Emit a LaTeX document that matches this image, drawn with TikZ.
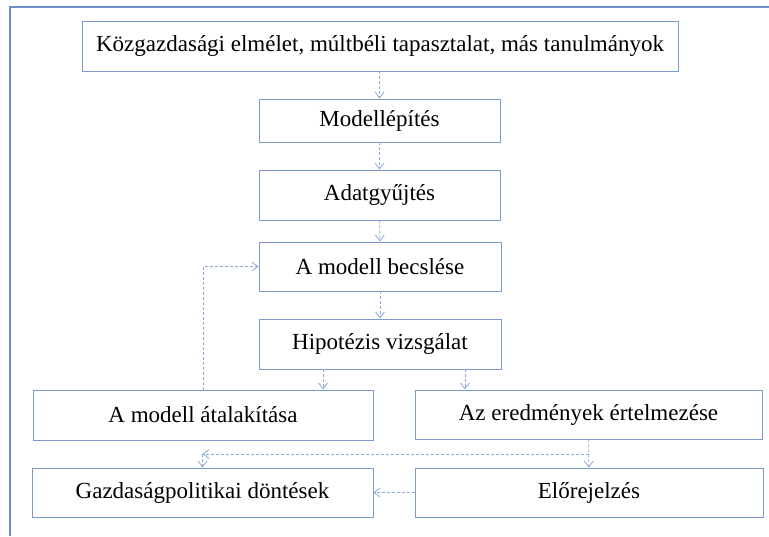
\documentclass[tikz,border=0pt]{standalone}
\usepackage{fontspec}
\setmainfont{Liberation Serif}
\usetikzlibrary{positioning,arrows.meta}
\definecolor{boxline}{HTML}{7B9BD0}
\definecolor{frameline}{HTML}{6F8FC8}
\definecolor{arrowline}{HTML}{8EA9DB}
\tikzset{
  box/.style={draw=boxline, line width=0.9pt, fill=white, inner sep=0pt,
    font=\fontsize{23}{27}\selectfont},
  flow/.style={draw=arrowline, line width=0.8pt, dash pattern=on 3pt off 2pt,
    -{Straight Barb[length=6pt,width=9pt]}}
}

\begin{document}
\begin{tikzpicture}[x=1pt,y=-1pt]
\useasboundingbox (0,0) rectangle (769,536);
% outer frame
\draw[frameline, line width=1.6pt] (10,536) -- (10,7) -- (769,7);
% boxes
\node[box, minimum width=596pt, minimum height=50pt] (theory) at (380,46)
  {Közgazdasági elmélet, múltbéli tapasztalat, más tanulmányok};
\node[box, minimum width=241pt, minimum height=43pt] (build) at (379.5,120.5) {Modellépítés};
\node[box, minimum width=241pt, minimum height=50pt] (data) at (379.5,195) {Adatgyűjtés};
\node[box, minimum width=242pt, minimum height=49pt] (estim) at (380,266.5) {A modell becslése};
\node[box, minimum width=242pt, minimum height=50pt] (hypo) at (380,344) {Hipotézis vizsgálat};
\node[box, minimum width=340pt, minimum height=50pt] (redo) at (203,415) {A modell átalakítása};
\node[box, minimum width=347pt, minimum height=49pt] (interp) at (588.5,414.5) {Az eredmények értelmezése};
\node[box, minimum width=341pt, minimum height=49pt] (policy) at (202.5,492.5) {Gazdaságpolitikai döntések};
\node[box, minimum width=348pt, minimum height=49pt] (fcast) at (589,492.5) {Előrejelzés};
% arrows
\draw[flow] (theory.south -| build) -- (build);
\draw[flow] (build) -- (data);
\draw[flow] (data) -- (estim);
\draw[flow] (estim) -- (hypo);
\draw[flow] ([xshift=-57pt]hypo.south) -- ([xshift=-57pt]hypo.south |- redo.north);
\draw[flow] ([xshift=85pt]hypo.south) -- ([xshift=85pt]hypo.south |- interp.north);
\draw[flow] (redo.north) |- (estim.west);
\draw[flow] (interp) -- (fcast);
\coordinate (split) at (589,454);
\coordinate (turn) at (policy.north |- split);
\draw[flow] (split) -- (turn);
\draw[flow] (turn) -- (policy.north);
\draw[flow] (fcast) -- (policy);
\end{tikzpicture}
\end{document}
